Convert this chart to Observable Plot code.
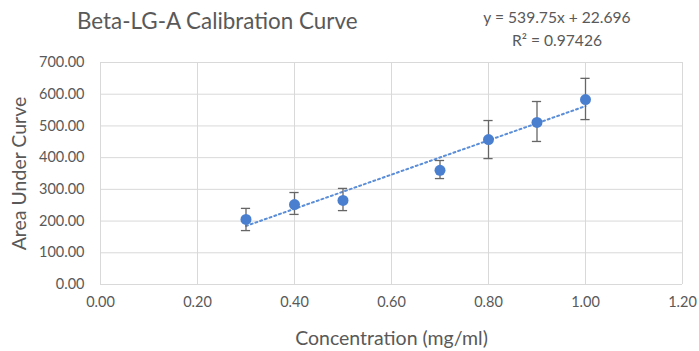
<!DOCTYPE html>
<html><head><meta charset="utf-8">
<script src="https://cdn.jsdelivr.net/npm/d3@7"></script>
<script src="https://cdn.jsdelivr.net/npm/@observablehq/plot@0.6"></script>
<style>
body{margin:0;background:#fff;font-family:Lato,"Open Sans",sans-serif;}
#wrap{position:relative;width:699px;height:351px;}
.t{position:absolute;color:#595959;white-space:nowrap;}
</style></head><body>
<div id="wrap">
<div class="t" id="title" style="left:77px;top:7px;font-size:22.4px;">Beta-LG-A Calibration Curve</div>
<div class="t" id="eq" style="left:467px;top:6px;font-size:15.6px;text-align:center;width:180px;line-height:23px;">y = 539.75x + 22.696<br>R² = 0.97426</div>
</div>
<script>
const concentration = [0.30, 0.40, 0.50, 0.70, 0.80, 0.90, 1.00];
const area = [205, 252, 265, 360, 457, 511, 583];
const errLow = [170, 221, 233, 334, 397, 451, 520];
const errHigh = [240, 290, 303, 391, 517, 577, 650];
const slope = 539.75, intercept = 22.696;
const xTicks = [0, 0.2, 0.4, 0.6, 0.8, 1.0, 1.2];
const yTicks = [0, 100, 200, 300, 400, 500, 600, 700];

const data = concentration.map((x, i) => ({x, y: area[i], lo: errLow[i], hi: errHigh[i]}));
const trend = [concentration[0], concentration[concentration.length - 1]].map(x => ({x, y: slope * x + intercept}));
const cap = 0.0095;

const chart = Plot.plot({
  width: 699, height: 351,
  marginTop: 62, marginBottom: 67, marginLeft: 100, marginRight: 17,
  style: {fontFamily: "Lato, 'Open Sans', sans-serif", fontSize: "14px", color: "#595959", background: "white"},
  x: {domain: [0, 1.2]},
  y: {domain: [0, 700]},
  marks: [
    Plot.gridX(xTicks, {stroke: "#d9d9d9", strokeOpacity: 1}),
    Plot.gridY(yTicks, {stroke: "#d9d9d9", strokeOpacity: 1}),
    Plot.axisX({ticks: xTicks, tickFormat: d3.format(".2f"), tickSize: 0, tickPadding: 12, fontSize: 14.5, label: "Concentration (mg/ml)", labelAnchor: "center", labelArrow: "none", labelOffset: 60}),
    Plot.axisY({ticks: yTicks, tickFormat: d3.format(".2f"), tickSize: 0, tickPadding: 16, fontSize: 14.5, label: "Area Under Curve", labelAnchor: "center", labelArrow: "none", labelOffset: 88}),
    Plot.line(trend, {x: "x", y: "y", stroke: "#5b8ed8", strokeWidth: 2, strokeDasharray: "2,3"}),
    Plot.ruleX(data, {x: "x", y1: "lo", y2: "hi", stroke: "#666666", strokeWidth: 1.3}),
    Plot.ruleY(data, {y: "lo", x1: d => d.x - cap, x2: d => d.x + cap, stroke: "#666666", strokeWidth: 1.3}),
    Plot.ruleY(data, {y: "hi", x1: d => d.x - cap, x2: d => d.x + cap, stroke: "#666666", strokeWidth: 1.3}),
    Plot.dot(data, {x: "x", y: "y", r: 5.5, fill: "#4a7fd0", stroke: "none"})
  ]
});
const svg = chart;
svg.style.position = "absolute"; svg.style.left = "0"; svg.style.top = "0";
document.getElementById("wrap").prepend(svg);
document.querySelectorAll('[aria-label="x-axis label"] text, [aria-label="y-axis label"] text').forEach(t => t.style.fontSize = "19.5px");
</script>
</body></html>
